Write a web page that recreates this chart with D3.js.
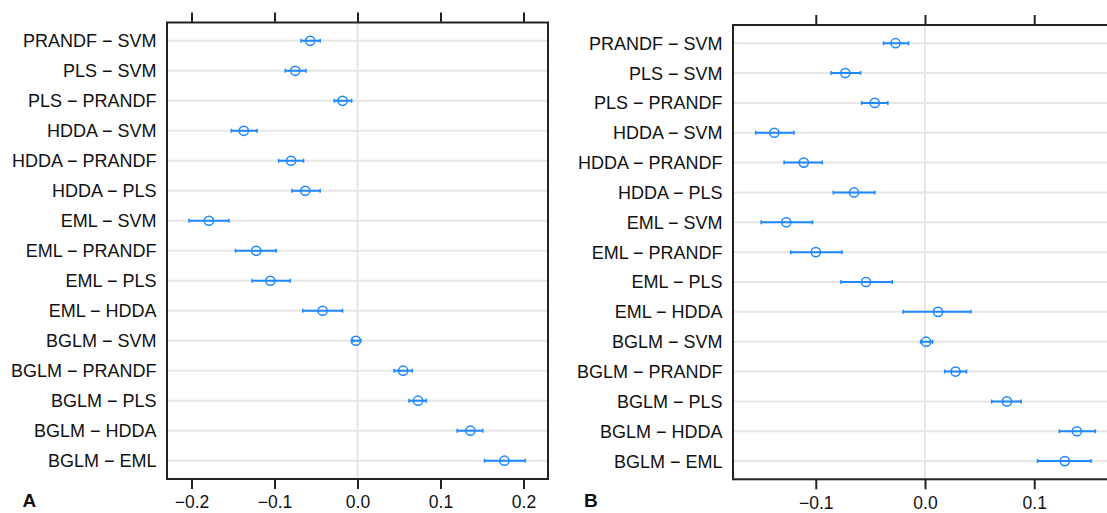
<!DOCTYPE html>
<html>
<head>
<meta charset="utf-8">
<script src="https://cdn.jsdelivr.net/npm/d3@7"></script>
<style>
  body { margin: 0; background: #fff; }
  svg { display: block; font-family: "Liberation Sans", Arial, sans-serif; }
</style>
</head>
<body>
<div id="chart"></div>
<script>
// comparisons, top to bottom
var comparisons = ["PRANDF − SVM", "PLS − SVM", "PLS − PRANDF", "HDDA − SVM", "HDDA − PRANDF",
  "HDDA − PLS", "EML − SVM", "EML − PRANDF", "EML − PLS", "EML − HDDA",
  "BGLM − SVM", "BGLM − PRANDF", "BGLM − PLS", "BGLM − HDDA", "BGLM − EML"];

// panel A
var estA = [-0.057, -0.075, -0.018, -0.137, -0.080, -0.063, -0.179, -0.122, -0.105, -0.042,
  -0.002, 0.055, 0.073, 0.136, 0.177];
var lowA = [-0.068, -0.087, -0.028, -0.152, -0.095, -0.079, -0.203, -0.147, -0.127, -0.066,
  -0.006, 0.044, 0.062, 0.120, 0.153];
var highA = [-0.045, -0.062, -0.007, -0.121, -0.065, -0.045, -0.155, -0.098, -0.081, -0.018,
  0.004, 0.066, 0.083, 0.151, 0.202];
var ticksA = [-0.2, -0.1, 0.0, 0.1, 0.2];

// panel B
var estB = [-0.027, -0.073, -0.046, -0.138, -0.111, -0.065, -0.127, -0.100, -0.054, 0.012,
  0.001, 0.028, 0.075, 0.139, 0.128];
var lowB = [-0.038, -0.086, -0.058, -0.155, -0.129, -0.084, -0.150, -0.123, -0.077, -0.020,
  -0.004, 0.018, 0.061, 0.123, 0.103];
var highB = [-0.015, -0.059, -0.034, -0.120, -0.094, -0.046, -0.103, -0.076, -0.030, 0.042,
  0.007, 0.038, 0.088, 0.156, 0.152];
var ticksB = [-0.1, 0.0, 0.1];

var W = 1107, H = 513;
var blue = "#1e88ff", grid = "#e6e6e6";
var fontSize = 18;

var svg = d3.select("#chart").append("svg")
    .attr("width", W)
    .attr("height", H);

function drawPanel(p) {
  var rows = comparisons.map((c, i) => ({name: c, est: p.est[i], lo: p.low[i], hi: p.high[i]}));

  var x = d3.scaleLinear().domain(p.domain).range([p.left, p.right]);
  var y = d3.scalePoint().domain(comparisons).range([p.top, p.bottom]).padding(0.61);

  var g = svg.append("g");

  // clip so the cut-off panel stays inside the frame
  var clipId = "clip" + p.letter;
  g.append("clipPath").attr("id", clipId)
    .append("rect")
    .attr("x", p.left).attr("y", p.top)
    .attr("width", p.right - p.left).attr("height", p.bottom - p.top);

  var inner = g.append("g").attr("clip-path", `url(#${clipId})`);

  // horizontal grid
  inner.selectAll("line.hgrid")
    .data(comparisons)
    .join("line")
    .attr("class", "hgrid")
    .attr("x1", p.left).attr("x2", p.right)
    .attr("y1", d => y(d)).attr("y2", d => y(d))
    .attr("stroke", grid)
    .attr("stroke-width", 2);

  // reference line at zero
  inner.append("line")
    .attr("x1", x(0)).attr("x2", x(0))
    .attr("y1", p.top).attr("y2", p.bottom)
    .attr("stroke", grid)
    .attr("stroke-width", 2);

  // intervals
  var bars = inner.selectAll("g.ci")
    .data(rows)
    .join("g")
    .attr("class", "ci");

  bars.append("line")
    .attr("x1", d => x(d.lo)).attr("x2", d => x(d.hi))
    .attr("y1", d => y(d.name)).attr("y2", d => y(d.name))
    .attr("stroke", blue).attr("stroke-width", 2);

  bars.selectAll("line.cap")
    .data(d => [{v: d.lo, n: d.name}, {v: d.hi, n: d.name}])
    .join("line")
    .attr("class", "cap")
    .attr("x1", d => x(d.v)).attr("x2", d => x(d.v))
    .attr("y1", d => y(d.n) - 2).attr("y2", d => y(d.n) + 2)
    .attr("stroke", blue).attr("stroke-width", 1.5);

  bars.append("circle")
    .attr("cx", d => x(d.est))
    .attr("cy", d => y(d.name))
    .attr("r", 4.6)
    .attr("fill", "none")
    .attr("stroke", blue)
    .attr("stroke-width", 1.5);

  // frame
  g.append("rect")
    .attr("x", p.left).attr("y", p.top)
    .attr("width", p.right - p.left).attr("height", p.bottom - p.top)
    .attr("fill", "none")
    .attr("stroke", "#222")
    .attr("stroke-width", 2);

  // row labels
  g.append("g")
    .attr("text-anchor", "end")
    .selectAll("text")
    .data(comparisons)
    .join("text")
    .attr("x", p.left - 10.5)
    .attr("y", d => y(d))
    .attr("dy", "0.36em")
    .attr("font-size", fontSize)
    .attr("fill", "#111")
    .text(d => d);

  // axes
  var top = g.append("g")
    .attr("transform", `translate(0,${p.top})`)
    .call(d3.axisTop(x).tickValues(p.ticks).tickSize(10).tickFormat(""));
  top.select(".domain").remove();
  top.selectAll(".tick line").attr("stroke", "#222").attr("stroke-width", 2);

  var bottom = g.append("g")
    .attr("transform", `translate(0,${p.bottom})`)
    .call(d3.axisBottom(x).tickValues(p.ticks).tickSize(10).tickPadding(7).tickFormat(d3.format(".1f")));
  bottom.select(".domain").remove();
  bottom.selectAll(".tick line").attr("stroke", "#222").attr("stroke-width", 2);
  bottom.selectAll(".tick text")
    .attr("font-size", 17.5)
    .attr("font-family", "Liberation Sans, Arial, sans-serif")
    .attr("fill", "#111");

  // panel letter
  g.append("text")
    .attr("x", p.letterX)
    .attr("y", 506.5)
    .attr("font-size", 19)
    .attr("font-weight", "bold")
    .attr("fill", "#111")
    .text(p.letter);
}

drawPanel({letter: "A", letterX: 22.5, est: estA, low: lowA, high: highA, ticks: ticksA,
  domain: [-0.2295, 0.2295], left: 167, right: 548, top: 22.5, bottom: 479});

drawPanel({letter: "B", letterX: 584, est: estB, low: lowB, high: highB, ticks: ticksB,
  domain: [-0.1758, 0.1767], left: 733, right: 1118, top: 25, bottom: 479.3});
</script>
</body>
</html>
